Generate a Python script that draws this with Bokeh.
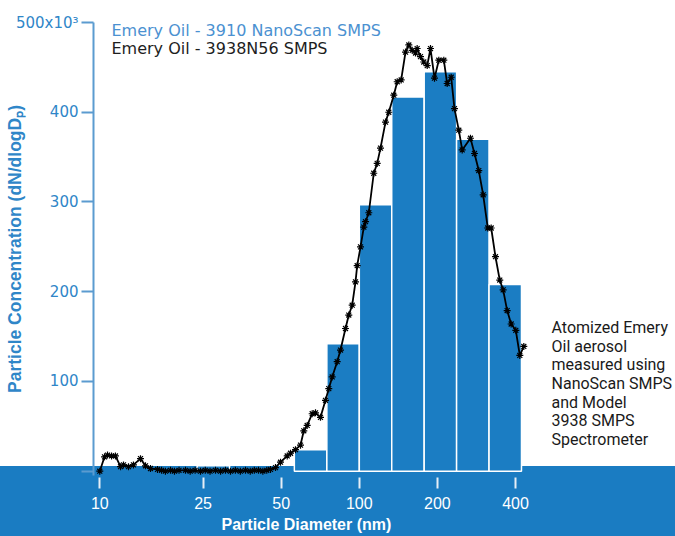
from bokeh.plotting import figure
from bokeh.models import Range1d, FixedTicker, PrintfTickFormatter, Label, ColumnDataSource, Title
from bokeh.embed import file_html
from bokeh.resources import INLINE

# NanoScan SMPS channels (nm) and dN/dlogDp (x10^3)
nano_diam = [11.5, 15.4, 20.5, 27.4, 36.5, 48.7, 64.9, 86.6, 115.5, 154.0, 205.4, 273.8, 365.2]
nano_conc = [0, 0, 0, 6, 0, 0, 24, 142, 297, 417, 445, 370, 208]

# 3938N56 SMPS scan
smps_diam = [10.0, 10.43, 10.71, 11.10, 11.49, 12.02, 12.34, 12.90, 13.48, 14.35, 15.00, 15.68,
             16.69, 17.3, 17.9, 18.73, 19.4, 20.2, 21.39, 22.3, 23.3, 24.44, 25.5, 26.6, 27.92,
             29.2, 30.5, 31.89, 33.3, 34.8, 36.43, 38.0, 39.4, 40.89, 42.5, 44.0, 45.48, 47.55,
             49.71, 52.75, 54.32, 56.78, 59.35, 61.11, 62.98, 65.84, 67.80, 70.87, 74.08, 76.29,
             78.63, 82.19, 84.64, 88.47, 91.10, 93.89, 96.70, 98.15, 101.1, 104.1, 105.7, 108.8,
             113.7, 117.2, 120.7, 126.2, 129.9, 135.8, 140.0, 145.0, 150.7, 155.2, 159.9, 164.7,
             167.1, 172.1, 177.2, 182.7, 188.1, 194.9, 202.5, 211.7, 218.1, 226.0, 232.7, 241.8,
             249.2, 268.2, 277.9, 288.7, 300.2, 312.7, 322.3, 334.8, 347.8, 358.4, 371.4, 384.8,
             401.0, 415.5, 430.5]
smps_conc = [0, 16, 18, 17, 17, 5, 7, 5, 7, 14, 6, 3,
             2, 1, 0, 1, 0, 1, 1, 0, 1, 0, 1, 0, 1,
             0, 1, 0, 1, 0, 1, 0, 1, 1, 0, 1, 2, 4,
             10, 17, 20, 24, 29, 45, 51, 64, 65, 60, 79, 92,
             105, 122, 135, 159, 174, 185, 211, 229, 250, 272, 278, 288,
             332, 343, 360, 389, 400, 419, 434, 436, 467, 475, 469, 466,
             471, 462, 456, 452, 471, 438, 458, 458, 432, 439, 404, 380,
             358, 371, 354, 335, 308, 271, 271, 239, 213, 202, 179, 164,
             157, 129, 139]

x_ticks = [10, 25, 50, 100, 200, 400]
y_ticks = [0, 100, 200, 300, 400, 500]
y_tick_labels = {0: "", 100: "100", 200: "200", 300: "300", 400: "400", 500: "500x10³"}
x_title = "Particle Diameter (nm)"
y_title = "Particle Concentration (dN/dlogDₚ)"
legend_labels = ["Emery Oil - 3910 NanoScan SMPS", "Emery Oil - 3938N56 SMPS"]
note_text = "Atomized Emery\nOil aerosol\nmeasured using\nNanoScan SMPS\nand Model\n3938 SMPS\nSpectrometer"

BAR = "#1b7dc3"
BAND = "#1a7cc2"
TXT_BLUE = "#2f86c8"
AXIS_BLUE = "#5b9bd0"

half = 10 ** (1 / 16)
nz = [i for i, v in enumerate(nano_conc) if v > 0]
bars = ColumnDataSource(dict(left=[nano_diam[i] / half for i in nz],
                             right=[nano_diam[i] * half for i in nz],
                             top=[nano_conc[i] for i in nz]))
curve = ColumnDataSource(dict(x=smps_diam, y=smps_conc))

p = figure(width=675, height=536, x_axis_type="log",
           x_range=Range1d(9.457, 1654), y_range=Range1d(-4.8, 500),
           output_backend="svg", toolbar_location=None,
           min_border_left=93, min_border_right=0, min_border_top=22, min_border_bottom=61)
p.outline_line_color = None
p.xgrid.visible = False
p.ygrid.visible = False
p.background_fill_color = None
p.border_fill_color = None
p.styles = {"background": "linear-gradient(to bottom, #ffffff 0px, #ffffff 466px, %s 466px, %s 100%%)" % (BAND, BAND)}

p.quad(left="left", right="right", top="top", bottom=0, source=bars,
       fill_color=BAR, line_color="white", line_width=1.5)
p.line("x", "y", source=curve, line_color="black", line_width=1.8)
p.scatter("x", "y", source=curve, marker="asterisk", size=7, line_color="black", line_width=1.2)

# x axis
xa = p.xaxis[0]
xa.ticker = FixedTicker(ticks=x_ticks, minor_ticks=[])
xa.formatter = PrintfTickFormatter(format="%d")
xa.axis_line_color = None
xa.major_tick_in = -2
xa.major_tick_out = 13
xa.major_tick_line_color = "#e6eef6"
xa.major_tick_line_width = 2
xa.minor_tick_line_color = None
xa.major_label_text_color = "white"
xa.major_label_text_font = "Liberation Sans"
xa.major_label_text_font_size = "16px"
xa.major_label_standoff = 8

p.add_layout(Title(text=x_title, align="left", offset=128, standoff=5,
                   text_color="white", text_font="Liberation Sans", text_font_style="bold",
                   text_font_size="16px"), "below")

# y axis
ya = p.yaxis[0]
ya.ticker = FixedTicker(ticks=y_ticks, minor_ticks=[])
ya.major_label_overrides = y_tick_labels
ya.axis_line_color = AXIS_BLUE
ya.axis_line_width = 2
ya.major_tick_in = 0
ya.major_tick_out = 12
ya.major_tick_line_color = AXIS_BLUE
ya.major_tick_line_width = 2
ya.minor_tick_line_color = None
ya.major_label_text_color = TXT_BLUE
ya.major_label_text_font = "DejaVu Sans"
ya.major_label_text_font_size = "15px"
ya.major_label_standoff = 3
ya.axis_label = y_title
ya.axis_label_text_color = TXT_BLUE
ya.axis_label_text_font = "Liberation Sans"
ya.axis_label_text_font_style = "bold"
ya.axis_label_text_font_size = "17.5px"
ya.axis_label_standoff = -12

p.add_layout(Label(x=11.095, y=491.5, text=legend_labels[0], text_align="left", text_baseline="middle",
                   text_color="#4b91d1", text_font="DejaVu Sans", text_font_size="16px"))
p.add_layout(Label(x=11.095, y=471.4, text=legend_labels[1], text_align="left", text_baseline="middle",
                   text_color="#1e1e1e", text_font="DejaVu Sans", text_font_size="16px"))

p.add_layout(Label(x=550.5, y=170.3, text=note_text, text_align="left", text_baseline="top",
                   text_color="#1a1a1a", text_font="Roboto", text_font_size="16px",
                   text_line_height=0.976))

open("out.html", "w").write(file_html(p, INLINE))
